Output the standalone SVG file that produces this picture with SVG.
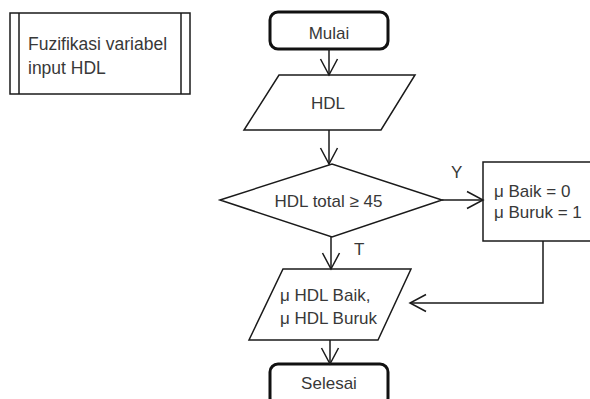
<svg xmlns="http://www.w3.org/2000/svg" width="590" height="399" viewBox="0 0 590 399">
  <style>
    .shape { fill: #ffffff; stroke: #1a1a1a; stroke-width: 1.5; }
    .term { fill: #ffffff; stroke: #111111; stroke-width: 3; }
    .edge { fill: none; stroke: #1a1a1a; stroke-width: 1.5; }
    .lbl { font-family: "Liberation Sans", Arial, sans-serif; font-size: 17px; fill: #383838; }
    .mid { text-anchor: middle; }
  </style>
  <defs>
    <marker id="vhead" markerUnits="userSpaceOnUse" viewBox="-18 -10 20 20" markerWidth="20" markerHeight="20" refX="0" refY="0" orient="auto">
      <path d="M-16,-8.5 L0,0 L-16,8.5" fill="none" stroke="#1a1a1a" stroke-width="1.5"/>
    </marker>
  </defs>
  <rect width="590" height="399" fill="#ffffff"/>

  <!-- predefined process: fuzzification of HDL input -->
  <g id="fuzifikasi">
    <rect class="shape" x="10" y="13" width="180" height="81"/>
    <line class="edge" x1="19" y1="13" x2="19" y2="94"/>
    <line class="edge" x1="181" y1="13" x2="181" y2="94"/>
    <text class="lbl" x="28" y="50" style="font-size:17.5px">Fuzifikasi variabel</text>
    <text class="lbl" x="28" y="74" style="font-size:17.5px">input HDL</text>
  </g>

  <g id="mulai">
    <rect class="term" x="270" y="12" width="118" height="37" rx="8"/>
    <text class="lbl mid" x="329" y="39">Mulai</text>
  </g>

  <g id="input-hdl">
    <polygon class="shape" points="279,75 415,75 381,130 244,130"/>
    <text class="lbl mid" x="328" y="109">HDL</text>
  </g>

  <g id="cek-hdl">
    <polygon class="shape" points="220,200 332,164 442,200 332,237"/>
    <text class="lbl mid" x="328.5" y="207">HDL total ≥ 45</text>
  </g>

  <g id="set-mu">
    <rect class="shape" x="483" y="162" width="115" height="79"/>
    <text class="lbl" x="494" y="197">μ Baik = 0</text>
    <text class="lbl" x="494" y="218">μ Buruk = 1</text>
  </g>

  <g id="output-mu">
    <polygon class="shape" points="283,269 411,269 378,340 249,340"/>
    <text class="lbl" x="280" y="301">μ HDL Baik,</text>
    <text class="lbl" x="280" y="324">μ HDL Buruk</text>
  </g>

  <g id="selesai">
    <rect class="term" x="270" y="364" width="118" height="42" rx="8"/>
    <text class="lbl mid" x="329" y="389">Selesai</text>
  </g>

  <g id="connectors">
    <line class="edge" x1="329" y1="49" x2="329" y2="75" marker-end="url(#vhead)"/>
    <line class="edge" x1="329" y1="130" x2="329" y2="164" marker-end="url(#vhead)"/>
    <line class="edge" x1="442" y1="200" x2="483" y2="200" marker-end="url(#vhead)"/>
    <line class="edge" x1="331" y1="237" x2="331" y2="269" marker-end="url(#vhead)"/>
    <polyline class="edge" points="543,241 543,303 410,303" marker-end="url(#vhead)"/>
    <line class="edge" x1="330" y1="340" x2="330" y2="364" marker-end="url(#vhead)"/>
    <text class="lbl" x="451" y="178">Y</text>
    <text class="lbl" x="354" y="255">T</text>
  </g>
</svg>
